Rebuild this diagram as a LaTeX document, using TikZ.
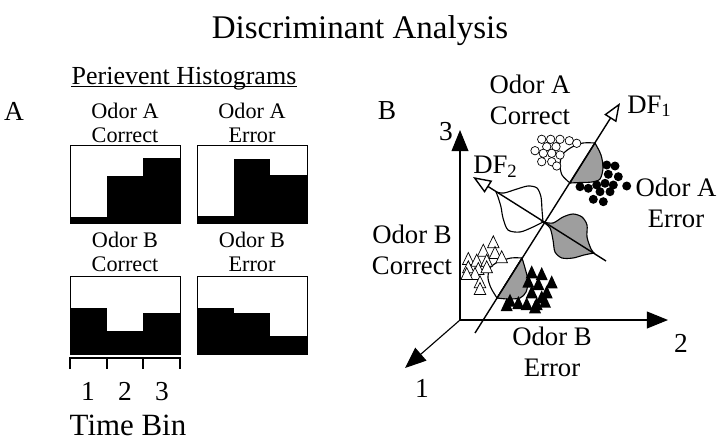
\documentclass[tikz,border=0pt]{standalone}
\usepackage{fontspec}
\setmainfont{Liberation Serif}
\usetikzlibrary{arrows.meta}

\newcommand{\titlesize}{\fontsize{23.5}{28}\selectfont}
\newcommand{\headsize}{\fontsize{18.5}{22}\selectfont}
\newcommand{\histsize}{\fontsize{15.8}{17}\selectfont}
\newcommand{\grpsize}{\fontsize{19}{22.4}\selectfont}
\newcommand{\numsize}{\fontsize{19.5}{23}\selectfont}
\newcommand{\binsize}{\fontsize{22}{26}\selectfont}
\newcommand{\panelsize}{\fontsize{19.5}{23}\selectfont}

\tikzset{
  hbox/.style={draw=black, line width=0.7pt},
  axisline/.style={line width=0.8pt, -{Triangle[length=15pt,width=12pt]}},
  dfline/.style={line width=1pt, -{Triangle[open,length=13pt,width=10pt]}},
  lobe/.style={draw=black, line width=0.8pt, fill=white},
  shade/.style={lobe, fill=black!38},
  grp/.style={align=center, inner sep=0pt, font=\grpsize},
  hlab/.style={align=center, inner sep=0pt, font=\histsize},
  txt/.style={anchor=base, inner sep=0pt},
}

\begin{document}
\begin{tikzpicture}[x=0.025cm, y=-0.025cm]
  \useasboundingbox (0,0) rectangle (720,440);

  \node[txt, font=\titlesize] (title) at (360,38) {Discriminant Analysis};

  % panel A
  \node[txt, font=\headsize] (peri) at (184,84) {Perievent Histograms};
  \draw[line width=0.8pt] ([yshift=-2pt]peri.base west) -- ([yshift=-2pt]peri.base east);
  \node[txt, font=\panelsize] (labA) at (14,120) {A};

  \node[hlab] (hAC) at (125,123) {Odor A\\Correct};
  \node[hlab] (hAE) at (252,123) {Odor A\\Error};
  \node[hlab] (hBC) at (125,252) {Odor B\\Correct};
  \node[hlab] (hBE) at (252,252) {Odor B\\Error};

  % Odor A correct
  \fill (70,217) rectangle (106.7,223);
  \fill (106.7,176) rectangle (143.3,223);
  \fill (143.3,158) rectangle (180,223);
  \draw[hbox] (70,145) rectangle (180,223);
  % Odor A error
  \fill (197,216) rectangle (233.7,223);
  \fill (233.7,159) rectangle (270.3,223);
  \fill (270.3,175) rectangle (307,223);
  \draw[hbox] (197,145) rectangle (307,223);
  % Odor B correct
  \fill (70,308) rectangle (106.7,354);
  \fill (106.7,331) rectangle (143.3,354);
  \fill (143.3,313) rectangle (180,354);
  \draw[hbox] (70,276) rectangle (180,354);
  % Odor B error
  \fill (197,308) rectangle (233.7,354);
  \fill (233.7,313) rectangle (270.3,354);
  \fill (270.3,336) rectangle (307,354);
  \draw[hbox] (197,276) rectangle (307,354);

  % time bins
  \draw[line width=1.2pt] (70,369) -- (70,358) -- (180,358) -- (180,369);
  \draw[line width=1.2pt] (106.7,358) -- (106.7,369);
  \draw[line width=1.2pt] (143.3,358) -- (143.3,369);
  \node[txt, font=\numsize] (bin1) at (88,400) {1};
  \node[txt, font=\numsize] (bin2) at (125,400) {2};
  \node[txt, font=\numsize] (bin3) at (162,400) {3};
  \node[txt, font=\binsize] (tbin) at (128,435) {Time Bin};

  % panel B
  \node[txt, font=\panelsize] (labB) at (387,119) {B};

  \coordinate (O) at (460,320);
  \coordinate (X1) at (405,368);
  \coordinate (X2) at (668,320);
  \coordinate (X3) at (460,130);
  \draw[axisline] (O) -- (X1);
  \draw[axisline] (O) -- (X2);
  \draw[axisline] (O) -- (X3);
  \node[txt, font=\numsize] (n1) at (422,397) {1};
  \node[txt, font=\numsize] (n2) at (681,352) {2};
  \node[txt, font=\numsize] (n3) at (446,140) {3};

  % distributions along DF2
  \filldraw[lobe] plot[smooth] coordinates {(543,222) (542,210) (541,197) (537,188) (528,186) (517,189) (504,193) (496,192)}
    -- plot[smooth] coordinates {(496,192) (498,197) (501,207) (503,218) (508,230) (520,232) (533,227) (543,222)} -- cycle;
  \filldraw[shade] plot[smooth] coordinates {(543,222) (553,223) (563,217) (573,214) (582,217) (587,225) (587,237) (591,249) (594,253)}
    -- plot[smooth] coordinates {(594,253) (584,255) (573,258) (562,258) (555,252) (553,240) (550,228) (543,222)} -- cycle;

  % distributions along DF1
  \filldraw[lobe] plot[smooth] coordinates {(595,143) (583,143) (572,147) (563,154) (560,164) (562,175) (570,183)} -- cycle;
  \filldraw[shade] plot[smooth] coordinates {(595,143) (601,155) (603,168) (600,179) (592,182) (580,182.5) (570,183)} -- cycle;
  \filldraw[lobe] plot[smooth] coordinates {(522,258) (511,258) (498,262) (490,268) (488,278) (491,288) (497,298)} -- cycle;
  \filldraw[shade] plot[smooth] coordinates {(522,258) (525,268) (528,281) (526,292) (520,298) (508,299) (497,298)} -- cycle;

  % discriminant axes
  \coordinate (D1s) at (475,333);
  \coordinate (D1e) at (620,103);
  \coordinate (D2s) at (606,261);
  \coordinate (D2e) at (473,177);
  \draw[dfline] (D1s) -- (D1e);
  \draw[dfline] (D2s) -- (D2e);
  \node[anchor=base west, inner sep=0pt, font=\grpsize] (df1) at (627,113) {DF\textsubscript{1}};
  \node[anchor=base west, inner sep=0pt, font=\grpsize] (df2) at (473,173) {DF\textsubscript{2}};

  % trials
  \foreach \x/\y in {541.7/139.3, 550.7/139.3, 560/139.3, 569.3/140.7, 576.7/143.3, 535/150.7, 546.7/146.7,
      556/146.7, 543.3/153.3, 551.7/153.3, 560/155, 541.7/161.7, 551.7/161.7, 556.7/166}
    \draw[line width=0.5pt, fill=white] (\x,\y) circle[radius=4.2];
  \foreach \x/\y in {606.7/165, 615/166, 608.3/174.3, 618.3/176.7, 580/186.7, 588.3/188.3, 596.7/185,
      605/183.3, 613.3/185, 600/191.7, 610/191.7, 593.3/199.3, 603.3/201.7, 626.7/186}
    \fill (\x,\y) circle[radius=4.5];
  \foreach \x/\y in {493.3/243.3, 483.3/251.7, 495/254, 501.7/258.3, 468.3/260, 476.7/261.7, 486.7/261.7,
      468.3/268.3, 478.3/270, 486.7/268.3, 475/275, 466.7/275, 480/283.3, 480/290}
    \draw[line width=0.5pt, fill=white] (\x,\y) +(0,-7.5) -- +(5.8,4.5) -- +(-5.8,4.5) -- cycle;
  \foreach \x/\y in {531.7/273.3, 541.7/275, 551.7/283.3, 528.3/282.7, 538.3/285, 546.7/293.3, 531.7/293.3,
      541.7/298.3, 510/301.7, 518.3/304, 526.7/305, 536.7/305, 545/302.7, 506.7/306, 535/308.3}
    \fill (\x,\y) +(0,-8) -- +(6,5) -- +(-6,5) -- cycle;

  \node[grp] (gAC) at (530,100) {Odor A\\Correct};
  \node[grp] (gAE) at (676,203) {Odor A\\Error};
  \node[grp] (gBC) at (412,250) {Odor B\\Correct};
  \node[grp] (gBE) at (552,352) {Odor B\\Error};
\end{tikzpicture}
\end{document}
